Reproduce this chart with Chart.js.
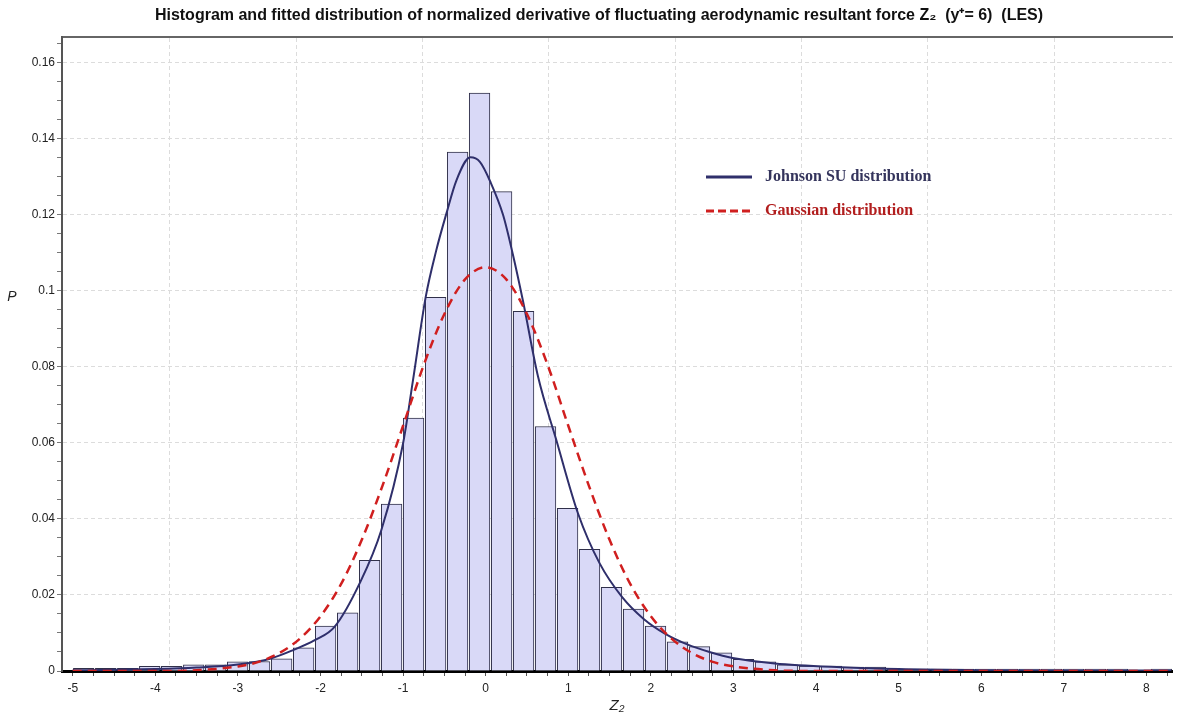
<!DOCTYPE html>
<html>
<head>
<meta charset="utf-8">
<script src="https://cdn.jsdelivr.net/npm/chart.js@4.4.1/dist/chart.umd.min.js"></script>
<style>
html,body{margin:0;padding:0;background:#ffffff;}
#wrap{width:1181px;height:718px;position:relative;}
</style>
</head>
<body>
<div id="wrap"><canvas id="c" width="1181" height="718"></canvas></div>
<script>
// ---- data ----
const binCenters = [-4.867,-4.601,-4.334,-4.068,-3.802,-3.535,-3.269,-3.003,-2.737,-2.470,
  -2.204,-1.938,-1.671,-1.405,-1.139,-0.873,-0.606,-0.340,-0.074,0.193,
  0.459,0.725,0.992,1.258,1.524,1.791,2.057,2.323,2.589,2.856,
  3.122,3.388,3.655,3.921,4.187,4.454,4.720,4.986,5.253,5.519,
  5.785,6.052,6.318,6.584,6.850,7.117,7.383,7.649,7.916,8.182];
const binFreq = [0.0007,0.0007,0.0007,0.0012,0.0012,0.0016,0.0016,0.0024,0.0025,0.0032,
  0.0061,0.0118,0.0153,0.0291,0.0439,0.0665,0.0983,0.1365,0.1520,0.1261,
  0.0946,0.0643,0.0428,0.0320,0.0220,0.0163,0.0118,0.0077,0.0064,0.0048,
  0.0031,0.0024,0.0016,0.0013,0.0013,0.0010,0.0010,0.0005,0.0005,0.0005,
  0.0005,0.0005,0.0005,0.0005,0.0005,0.0005,0.0005,0.0005,0.0002,0.0005];

const johnsonX = [-5.0,-4.5,-4.0,-3.5,-3.0,-2.6,-2.33,-2.07,-1.83,-1.525,-1.263,-1.0,-0.88,-0.726,-0.6,-0.476,-0.355,-0.185,-0.07,0.06,0.21,0.33,0.45,0.633,0.856,1.117,1.38,1.65,1.913,2.18,2.44,2.71,2.99,3.5,4.3,5.0,6.0,7.0,8.3];
const johnsonY = [0.0002,0.0003,0.0005,0.0009,0.0017,0.0033,0.0055,0.0081,0.0116,0.0231,0.0371,0.0599,0.0765,0.0984,0.1105,0.1203,0.1290,0.1351,0.1339,0.1285,0.1200,0.1095,0.0975,0.0775,0.0607,0.0415,0.0283,0.0195,0.0137,0.0097,0.0070,0.0050,0.0034,0.0020,0.0010,0.0005,0.0002,0.0001,0.0001];

const gaussX = [-5.0,-4.0,-3.5,-3.0,-2.75,-2.5,-2.25,-2.0,-1.75,-1.5,-1.25,-1.0,-0.75,-0.5,-0.25,0.0,0.25,0.5,0.75,1.0,1.25,1.5,1.75,2.0,2.25,2.5,2.75,3.0,3.5,4.0,5.0,6.0,7.0,8.3];
const gaussY = [0.0000,0.0000,0.0002,0.0012,0.0024,0.0047,0.0085,0.0144,0.0229,0.0345,0.0487,0.0645,0.0805,0.0939,0.1030,0.1062,0.1030,0.0939,0.0805,0.0645,0.0487,0.0345,0.0229,0.0144,0.0085,0.0047,0.0024,0.0012,0.0002,0.0000,0.0000,0.0000,0.0000,0.0000];

const xTickLabels = ['-5','-4','-3','-2','-1','0','1','2','3','4','5','6','7','8'];
const yTickLabels = ['0','0.02','0.04','0.06','0.08','0.1','0.12','0.14','0.16'];
const gridX = [-4.59,-3.06,-1.53,0,1.53,3.06,4.59,6.12,7.65];

const seriesNames = ['Histogram','Johnson SU distribution','Gaussian distribution'];
const titleText = 'Histogram and fitted distribution of normalized derivative of fluctuating aerodynamic resultant force Z\u2082  (y\u207A= 6)  (LES)';

// ---- chart ----
const X_MIN = -5.13, X_MAX = 8.31, Y_MIN = 0, Y_MAX = 0.1667;
const xMajor = xTickLabels.map(Number);
const yMajor = yTickLabels.map(Number);

const legendPlugin = {
  id: 'insideLegend',
  afterDraw(chart) {
    const ctx = chart.ctx;
    const rows = [
      {ds: chart.data.datasets[1], y: 177, text: '#34345c'},
      {ds: chart.data.datasets[2], y: 211, text: '#b21e1e'}
    ];
    ctx.save();
    rows.forEach(r => {
      ctx.beginPath();
      ctx.strokeStyle = r.ds.borderColor;
      ctx.lineWidth = 3;
      ctx.setLineDash(r.ds.borderDash ? [8, 4] : []);
      ctx.moveTo(706, r.y);
      ctx.lineTo(752, r.y);
      ctx.stroke();
      ctx.setLineDash([]);
      ctx.fillStyle = r.text;
      ctx.font = 'bold 16px "Liberation Serif", "DejaVu Serif", serif';
      ctx.textAlign = 'left';
      ctx.textBaseline = 'middle';
      ctx.fillText(r.ds.label, 765, r.y);
    });
    // y-axis title (unrotated)
    ctx.fillStyle = '#222';
    ctx.font = 'italic 14px "Liberation Sans", Arial, sans-serif';
    ctx.textAlign = 'center';
    ctx.textBaseline = 'middle';
    ctx.fillText('P', 12, 297);
    ctx.restore();
  }
};

new Chart(document.getElementById('c'), {
  type: 'bar',
  data: {
    datasets: [
      {
        type: 'bar',
        label: seriesNames[0],
        data: binCenters.map((x, i) => ({x: x, y: binFreq[i]})),
        backgroundColor: '#d9d9f7',
        borderColor: '#30304a',
        borderWidth: 1,
        barPercentage: 1,
        categoryPercentage: 1,
        grouped: false,
        order: 3,
        xAxisID: 'x', yAxisID: 'y'
      },
      {
        type: 'line',
        label: seriesNames[1],
        data: johnsonX.map((x, i) => ({x: x, y: johnsonY[i]})),
        borderColor: '#2f2f6b',
        borderWidth: 2,
        pointRadius: 0,
        fill: false,
        cubicInterpolationMode: 'monotone',
        order: 1,
        xAxisID: 'x', yAxisID: 'y'
      },
      {
        type: 'line',
        label: seriesNames[2],
        data: gaussX.map((x, i) => ({x: x, y: gaussY[i]})),
        borderColor: '#d01f1f',
        borderWidth: 2.5,
        borderDash: [9, 6],
        pointRadius: 0,
        fill: false,
        cubicInterpolationMode: 'monotone',
        order: 0,
        xAxisID: 'x', yAxisID: 'y'
      }
    ]
  },
  options: {
    responsive: false,
    animation: false,
    devicePixelRatio: 1,
    layout: {padding: {left: 26, right: 9, top: 0, bottom: 0}},
    plugins: {
      legend: {display: false},
      tooltip: {enabled: false},
      title: {
        display: true,
        text: titleText,
        color: '#111',
        font: {family: '"Liberation Sans Narrow", "Liberation Sans", Arial, sans-serif', size: 16, weight: 'bold', lineHeight: 1.2},
        padding: {top: 6, bottom: 12}
      }
    },
    scales: {
      x: {
        type: 'linear',
        position: 'bottom',
        min: X_MIN, max: X_MAX,
        offset: false,
        afterBuildTicks: s => {
          const t = [];
          for (let i = -20; i <= 33; i++) t.push({value: i / 4});
          s.ticks = t;
        },
        afterFit: s => { s.height = 47; },
        ticks: {
          autoSkip: false, maxRotation: 0, minRotation: 0,
          color: '#222',
          padding: 5,
          font: {family: '"Liberation Sans", Arial, sans-serif', size: 12},
          callback: v => {
            const k = xMajor.indexOf(v);
            return k >= 0 ? xTickLabels[k] : '';
          }
        },
        grid: {offset: false, drawOnChartArea: false, drawTicks: true, tickLength: 5, tickColor: '#555', tickWidth: 1},
        border: {display: true, color: '#000', width: 3},
        title: {display: true, text: 'Z\u2082', color: '#222',
          font: {family: '"Liberation Sans", Arial, sans-serif', size: 15, style: 'italic'},
          padding: {top: 0, bottom: 3}}
      },
      x2: {
        type: 'linear',
        position: 'top',
        min: X_MIN, max: X_MAX,
        offset: false,
        afterBuildTicks: s => { s.ticks = gridX.map(v => ({value: v})); },
        afterFit: s => { s.height = 0; },
        ticks: {display: false},
        grid: {display: true, drawTicks: false, color: '#dcdcdc', lineWidth: 1},
        border: {display: true, color: '#666', width: 2, dash: [4, 3]}
      },
      y: {
        type: 'linear',
        position: 'left',
        min: Y_MIN, max: Y_MAX,
        afterBuildTicks: s => {
          const t = [];
          for (let i = 0; i <= 33; i++) t.push({value: i / 200});
          s.ticks = t;
        },
        afterFit: s => { s.width = 36; },
        ticks: {
          autoSkip: false,
          color: '#222',
          padding: 2,
          font: {family: '"Liberation Sans", Arial, sans-serif', size: 12},
          callback: v => {
            const k = yMajor.findIndex(m => Math.abs(m - v) < 1e-9);
            return k >= 0 ? yTickLabels[k] : '';
          }
        },
        grid: {
          drawTicks: true, tickLength: 5, tickColor: '#777', tickWidth: 1,
          color: c => {
            const v = c.tick ? c.tick.value : 0;
            const major = yMajor.some(m => Math.abs(m - v) < 1e-9);
            return (major && v > 0) ? '#dcdcdc' : 'rgba(0,0,0,0)';
          },
          lineWidth: 1
        },
        border: {display: true, color: '#555', width: 2, dash: [4, 3]}
      }
    }
  },
  plugins: [legendPlugin]
});
</script>
</body>
</html>
